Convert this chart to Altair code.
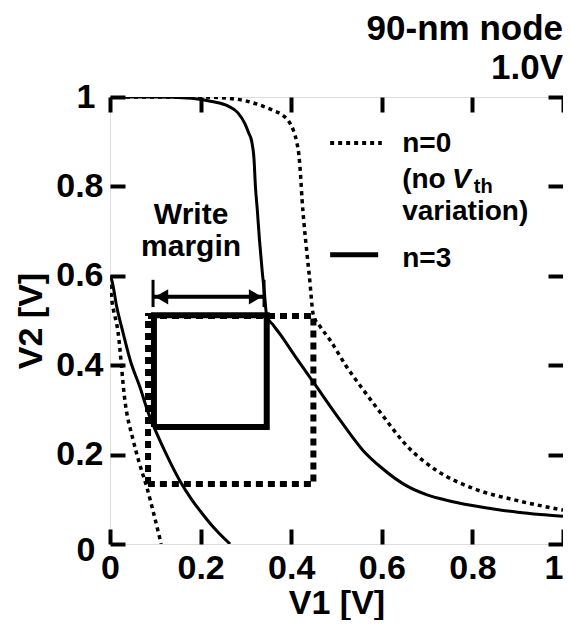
import altair as alt
import pandas as pd

FONT = "Liberation Sans"

# ---- data (V1 [V], V2 [V]) ----
n0_upper_x = [0.0, 0.2, 0.28, 0.322, 0.36, 0.38, 0.395, 0.405, 0.412, 0.417, 0.421, 0.424, 0.428,
              0.434, 0.44, 0.449, 0.465, 0.486, 0.52, 0.559, 0.6, 0.655, 0.72, 0.8, 0.9, 1.0]
n0_upper_y = [1.0, 1.0, 0.995, 0.985, 0.97, 0.96, 0.945, 0.925, 0.9, 0.87, 0.82, 0.77, 0.72,
              0.658, 0.6, 0.512, 0.485, 0.456, 0.4, 0.345, 0.29, 0.22, 0.165, 0.125, 0.097, 0.076]
n0_lower_x = [0.0, 0.004, 0.018, 0.033, 0.051, 0.065, 0.081, 0.096, 0.113]
n0_lower_y = [0.58, 0.546, 0.472, 0.32, 0.233, 0.18, 0.128, 0.07, 0.0]

n3_upper_x = [0.0, 0.1, 0.18, 0.225, 0.26, 0.282, 0.298, 0.306, 0.313, 0.318, 0.321, 0.325, 0.33,
              0.336, 0.341, 0.346, 0.36, 0.375, 0.41, 0.449, 0.508, 0.558, 0.6, 0.655, 0.7, 0.743,
              0.8, 0.854, 0.9, 0.95, 1.0]
n3_upper_y = [1.0, 1.0, 0.997, 0.99, 0.98, 0.965, 0.94, 0.92, 0.9, 0.86, 0.8, 0.75, 0.68,
              0.61, 0.56, 0.51, 0.49, 0.47, 0.418, 0.362, 0.277, 0.21, 0.17, 0.13, 0.11, 0.098,
              0.086, 0.077, 0.071, 0.066, 0.062]
n3_lower_x = [0.0, 0.004, 0.015, 0.029, 0.045, 0.066, 0.084, 0.097, 0.12, 0.155, 0.18, 0.206, 0.235, 0.265]
n3_lower_y = [0.6, 0.59, 0.53, 0.472, 0.41, 0.351, 0.295, 0.262, 0.21, 0.14, 0.1, 0.065, 0.03, 0.0]

# inscribed squares
sq_n0_x = [0.084, 0.084, 0.449, 0.449, 0.084]
sq_n0_y = [0.134, 0.51, 0.51, 0.134, 0.134]
sq_n3_x = [0.097, 0.097, 0.346, 0.346, 0.097]
sq_n3_y = [0.262, 0.512, 0.512, 0.262, 0.262]

# write-margin arrow
arrow_x = [0.095, 0.34]
arrow_y = 0.553
bar_y = [0.53, 0.591]

tick_values = [0, 0.2, 0.4, 0.6, 0.8, 1]
title_lines = ["90-nm node", "1.0V"]

# annotation placement (data coordinates)
legend_text_x = 0.645
legend_sample_x = [0.486, 0.6]

xs = alt.Scale(domain=[0, 1], nice=False, zero=False)
ys = alt.Scale(domain=[0, 1], nice=False, zero=False)


def df_of(x, y):
    return pd.DataFrame({"x": x, "y": y, "i": list(range(len(x)))})


def line(x, y, width, dash=None, interp="linear"):
    kw = dict(stroke="black", strokeWidth=width, strokeCap="butt", strokeJoin="miter",
              clip=True, interpolate=interp)
    if dash is not None:
        kw["strokeDash"] = dash
    return alt.Chart(df_of(x, y)).mark_line(**kw).encode(
        x=alt.X("x:Q", scale=xs, axis=None),
        y=alt.Y("y:Q", scale=ys, axis=None),
        order="i:Q",
    )


axis_common = dict(
    values=tick_values, format="~g", domain=False, grid=False,
    ticks=True, tickSize=15, tickWidth=4, tickColor="black", offset=-15,
    labelFont=FONT, labelFontSize=34, labelFontWeight="bold", labelColor="black",
    labelFlush=False, labelOverlap=False, labelBound=False,
    titleFont=FONT, titleFontSize=34, titleFontWeight="bold", titleColor="black",
)

main = alt.Chart(df_of(n3_upper_x, n3_upper_y)).mark_line(
    stroke="black", strokeWidth=3, clip=True, interpolate="monotone"
).encode(
    x=alt.X("x:Q", scale=xs, axis=alt.Axis(
        title="V1 [V]", labelPadding=7, titlePadding=1,
        labelAlign={"condition": {"test": "datum.value == 1", "value": "right"}, "value": "center"},
        **axis_common)),
    y=alt.Y("y:Q", scale=ys, axis=alt.Axis(
        title="V2 [V]", titlePadding=7,
        labelPadding={"condition": {"test": "datum.value == 0 || datum.value == 1", "value": 15},
                      "value": 7},
        labelOffset={"condition": {"test": "datum.value == 0", "value": 6}, "value": 0},
        **axis_common)),
    order="i:Q",
)

mirror_common = dict(values=tick_values, labels=False, domain=False, grid=False, ticks=True,
                     tickSize=15, tickWidth=4, tickColor="black", offset=-15, title="")
mirror = alt.Chart(df_of(n3_upper_x, n3_upper_y)).mark_line(opacity=0).encode(
    x=alt.X("x:Q", scale=xs, axis=alt.Axis(orient="top", **mirror_common)),
    y=alt.Y("y:Q", scale=ys, axis=alt.Axis(orient="right", **mirror_common)),
    order="i:Q",
)

layers = [
    mirror,
    line(sq_n0_x, sq_n0_y, 6, [7, 5]),
    line(n0_upper_x, n0_upper_y, 3.5, [4, 4], "monotone"),
    line(n0_lower_x, n0_lower_y, 3.5, [4, 4], "monotone"),
    line(sq_n3_x, sq_n3_y, 6),
    main,
    line(n3_lower_x, n3_lower_y, 3, None, "monotone"),
    # arrow
    line(arrow_x, [arrow_y, arrow_y], 4),
    line([arrow_x[0], arrow_x[0]], bar_y, 3),
    line([arrow_x[1], arrow_x[1]], bar_y, 3),
    # legend samples
    line(legend_sample_x, [0.897, 0.897], 4, [4, 4]),
    line([legend_sample_x[0], 0.592], [0.647, 0.647], 5),
]

heads = pd.DataFrame({"x": [arrow_x[0] + 0.019, arrow_x[1] - 0.019], "y": [arrow_y, arrow_y],
                      "shape": ["triangle-left", "triangle-right"]})
layers.append(alt.Chart(heads).mark_point(filled=True, size=230, color="black", opacity=1).encode(
    x=alt.X("x:Q", scale=xs, axis=None), y=alt.Y("y:Q", scale=ys, axis=None),
    shape=alt.Shape("shape:N", scale=None),
))


def text(df, size, align="left", style="normal"):
    return alt.Chart(df).mark_text(
        font=FONT, fontSize=size, fontWeight="bold", fontStyle=style, color="black",
        align=align, baseline="alphabetic",
    ).encode(
        x=alt.X("x:Q", scale=xs, axis=None), y=alt.Y("y:Q", scale=ys, axis=None), text="t:N"
    )


legend_df = pd.DataFrame({"t": ["n=0", "(no", "variation)", "n=3"],
                          "x": [legend_text_x] * 4, "y": [0.877, 0.796, 0.725, 0.62]})
layers.append(text(legend_df, 28))
layers.append(text(pd.DataFrame({"t": ["V"], "x": [0.755], "y": [0.796]}), 28, style="italic"))
layers.append(text(pd.DataFrame({"t": ["th"], "x": [0.803], "y": [0.785]}), 20))
layers.append(text(pd.DataFrame({"t": ["Write", "margin"], "x": [0.179, 0.179], "y": [0.716, 0.645]}),
                   30, align="center"))

chart = alt.layer(*layers).resolve_axis(x="independent", y="independent").properties(
    width=453, height=447,
    autosize=alt.AutoSizeParams(type="none"),
    padding={"left": 102, "top": 89, "right": 0, "bottom": 76},
    title=alt.TitleParams(text=title_lines, anchor="end", frame="group", font=FONT, fontSize=35,
                          fontWeight="bold", color="black", lineHeight=39, offset=0, dy=6),
).configure_view(stroke="black", strokeWidth=4).configure(background="white")

chart.save("out.html", embed_options={"renderer": "svg", "actions": False})
